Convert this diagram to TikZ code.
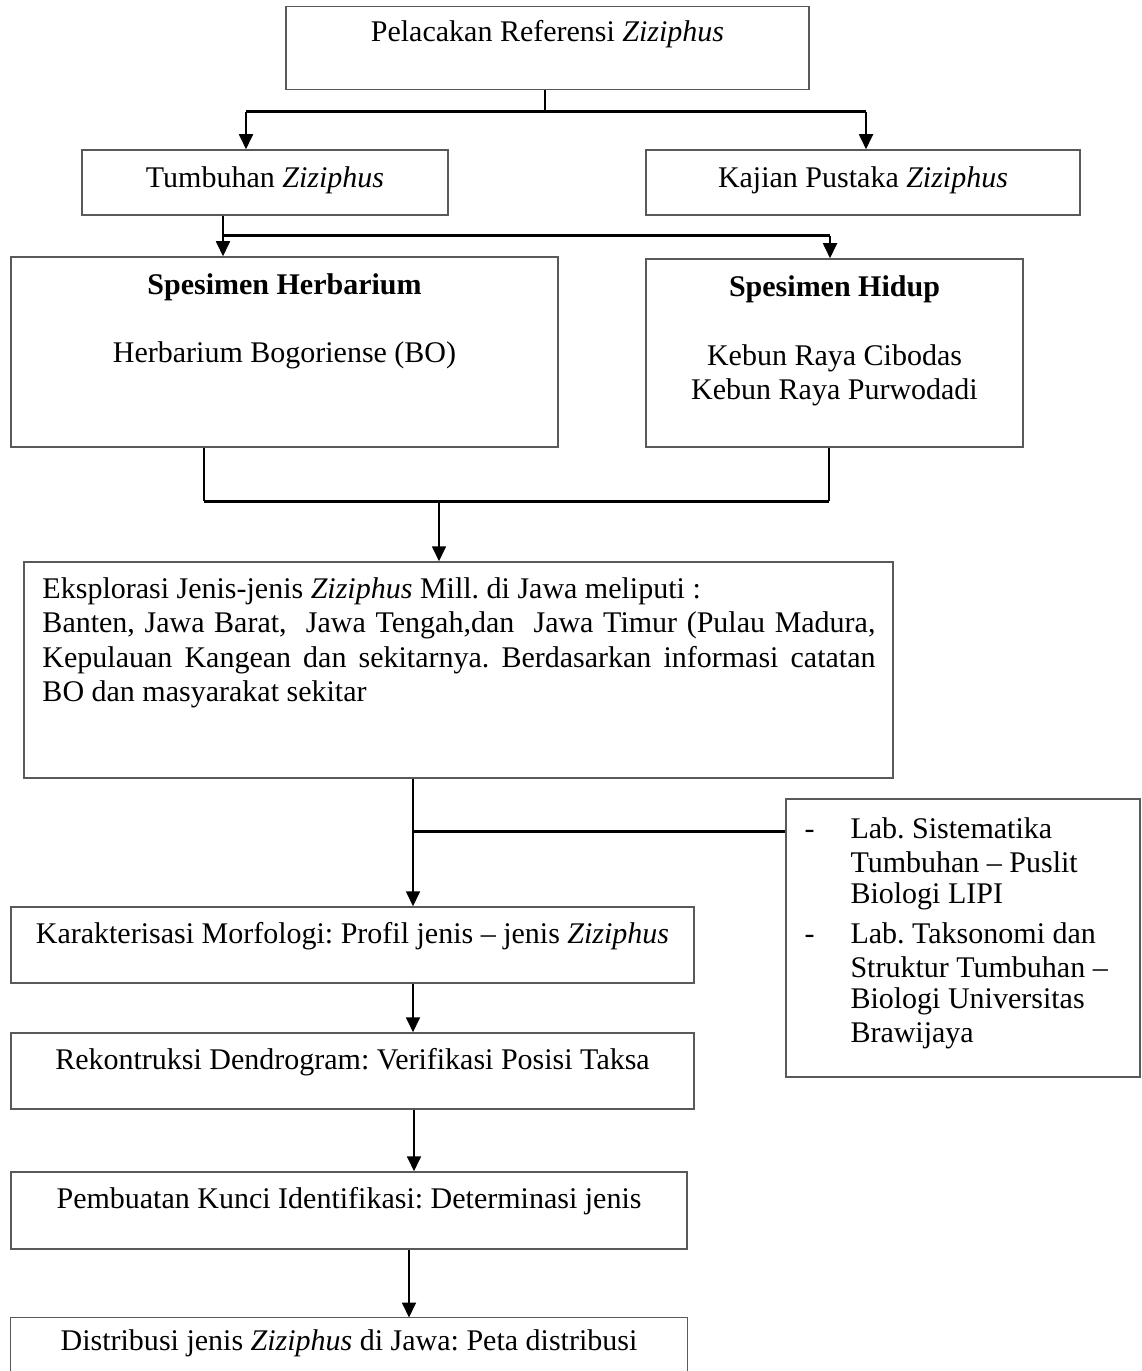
\documentclass[tikz,border=0pt]{standalone}
\usepackage{fontspec}
\setmainfont{Liberation Serif}
\usetikzlibrary{arrows.meta}
\frenchspacing
\begin{document}
\begin{tikzpicture}[x=0.4pt,y=-0.4pt,
  box/.style={draw=black!65,line width=0.6pt,rectangle,inner sep=0pt},
  txt/.style={inner sep=0pt,font=\fontsize{12pt}{14pt}\selectfont},
  conn/.style={line width=0.7pt,black},
  bar/.style={line width=1.2pt,black},
  arr/.style={line width=0.7pt,black,-{Triangle[width=5.6pt,length=6pt]}}]
\useasboundingbox (0,0) rectangle (1141,1371);
% boxes
\node[box,minimum width=523*0.4pt,minimum height=83*0.4pt] (top) at (547.5,48) {};
\node[txt] (toptxt) at (547.5,34) {Pelacakan Referensi \textit{Ziziphus}};
\node[box,minimum width=366*0.4pt,minimum height=65*0.4pt] (tumb) at (265,182.5) {};
\node[txt] (tumbtxt) at (265,180) {Tumbuhan \textit{Ziziphus}};
\node[box,minimum width=434*0.4pt,minimum height=65*0.4pt] (kaj) at (863,182.5) {};
\node[txt] (kajtxt) at (863,180) {Kajian Pustaka \textit{Ziziphus}};
\node[box,minimum width=547*0.4pt,minimum height=190*0.4pt] (herb) at (284.5,352) {};
\node[txt] (herbt) at (284.5,287) {\textbf{Spesimen Herbarium}};
\node[txt] (herbl) at (284.5,355) {Herbarium Bogoriense (BO)};
\node[box,minimum width=377*0.4pt,minimum height=188*0.4pt] (hid) at (834.5,353) {};
\node[txt] (hidt) at (834.5,289) {\textbf{Spesimen Hidup}};
\node[txt] (hidl1) at (834.5,358) {Kebun Raya Cibodas};
\node[txt] (hidl2) at (834.5,392) {Kebun Raya Purwodadi};
\node[box,minimum width=869*0.4pt,minimum height=216*0.4pt] (eks) at (458.5,670) {};
\node[txt,anchor=west,align=left] (eks1) at (42,591) {Eksplorasi Jenis-jenis \textit{Ziziphus} Mill. di Jawa meliputi :};
\node[txt,anchor=west] (eks2) at (42,625.5) {\makebox[333.2pt][s]{Banten, Jawa Barat,\ \ Jawa Tengah,dan\ \ Jawa Timur (Pulau Madura,}};
\node[txt,anchor=west] (eks3) at (42,660) {\makebox[333.2pt][s]{Kepulauan Kangean dan sekitarnya. Berdasarkan informasi catatan}};
\node[txt,anchor=west] (eks4) at (42,694.5) {BO dan masyarakat sekitar};
\node[box,minimum width=354*0.4pt,minimum height=278*0.4pt] (lab) at (963,938) {};
\node[txt,anchor=west] (l1) at (850,828) {Lab. Sistematika};
\node[txt,anchor=west] (l2) at (850,862) {Tumbuhan -- Puslit};
\node[txt,anchor=west] (l3) at (850,896) {Biologi LIPI};
\node[txt,anchor=west] (l4) at (850,933) {Lab. Taksonomi dan};
\node[txt,anchor=west] (l5) at (850,967) {Struktur Tumbuhan --};
\node[txt,anchor=west] (l6) at (850,1001) {Biologi Universitas};
\node[txt,anchor=west] (l7) at (850,1036) {Brawijaya};
\node[txt,anchor=base west] (d1) at (l1.base -| 804,0) {-};
\node[txt,anchor=base west] (d2) at (l4.base -| 804,0) {-};
\node[box,minimum width=683*0.4pt,minimum height=76*0.4pt] (kar) at (352.5,945) {};
\node[txt] (kart) at (352.5,936) {Karakterisasi Morfologi: Profil jenis -- jenis \textit{Ziziphus}};
\node[box,minimum width=683*0.4pt,minimum height=76*0.4pt] (rek) at (352.5,1071) {};
\node[txt] (rekt) at (352.5,1062) {Rekontruksi Dendrogram: Verifikasi Posisi Taksa};
\node[box,minimum width=676*0.4pt,minimum height=77*0.4pt] (pem) at (349,1210.5) {};
\node[txt] (pemt) at (349,1201) {Pembuatan Kunci Identifikasi: Determinasi jenis};
\node[inner sep=0pt,minimum width=676*0.4pt,minimum height=53*0.4pt] (dist) at (349,1344.5) {};
\draw[draw=black!65,line width=0.6pt] (dist.south west) -- (dist.north west) -- (dist.north east) -- (dist.south east);
\node[txt] (distt) at (349,1343) {Distribusi jenis \textit{Ziziphus} di Jawa: Peta distribusi};
% connectors
\coordinate (j1) at (545,112);
\coordinate (b1) at (246,112);
\coordinate (b2) at (866,112);
\draw[conn] (top.south -| j1) -- (j1);
\draw[bar] (b1) -- (b2);
\draw[arr] (b1) -- (b1 |- tumb.north);
\draw[arr] (b2) -- (b2 |- kaj.north);
\coordinate (c1) at (223,236);
\coordinate (c2) at (830,236);
\draw[conn] (tumb.south -| c1) -- (c1);
\draw[bar] (c1) -- (c2);
\draw[arr] (c1) -- (c1 |- herb.north);
\draw[arr] (c2) -- (c2 |- hid.north);
\coordinate (e1) at (204,501);
\coordinate (e2) at (829,501);
\coordinate (e3) at (439,501);
\draw[conn] (herb.south -| e1) -- (e1);
\draw[conn] (hid.south -| e2) -- (e2);
\draw[bar] (e1) -- (e2);
\draw[arr] (e3) -- (e3 |- eks.north);
\coordinate (f1) at (413,778);
\coordinate (f2) at (413,831);
\draw[arr] (eks.south -| f1) -- (f1 |- kar.north);
\draw[bar] (f2) -- (f2 -| lab.west);
\coordinate (g1) at (413,983);
\draw[arr] (kar.south -| g1) -- (g1 |- rek.north);
\coordinate (h1) at (414,1109);
\draw[arr] (rek.south -| h1) -- (h1 |- pem.north);
\coordinate (k1) at (409,1249);
\draw[arr] (pem.south -| k1) -- (k1 |- dist.north);
\end{tikzpicture}
\end{document}
